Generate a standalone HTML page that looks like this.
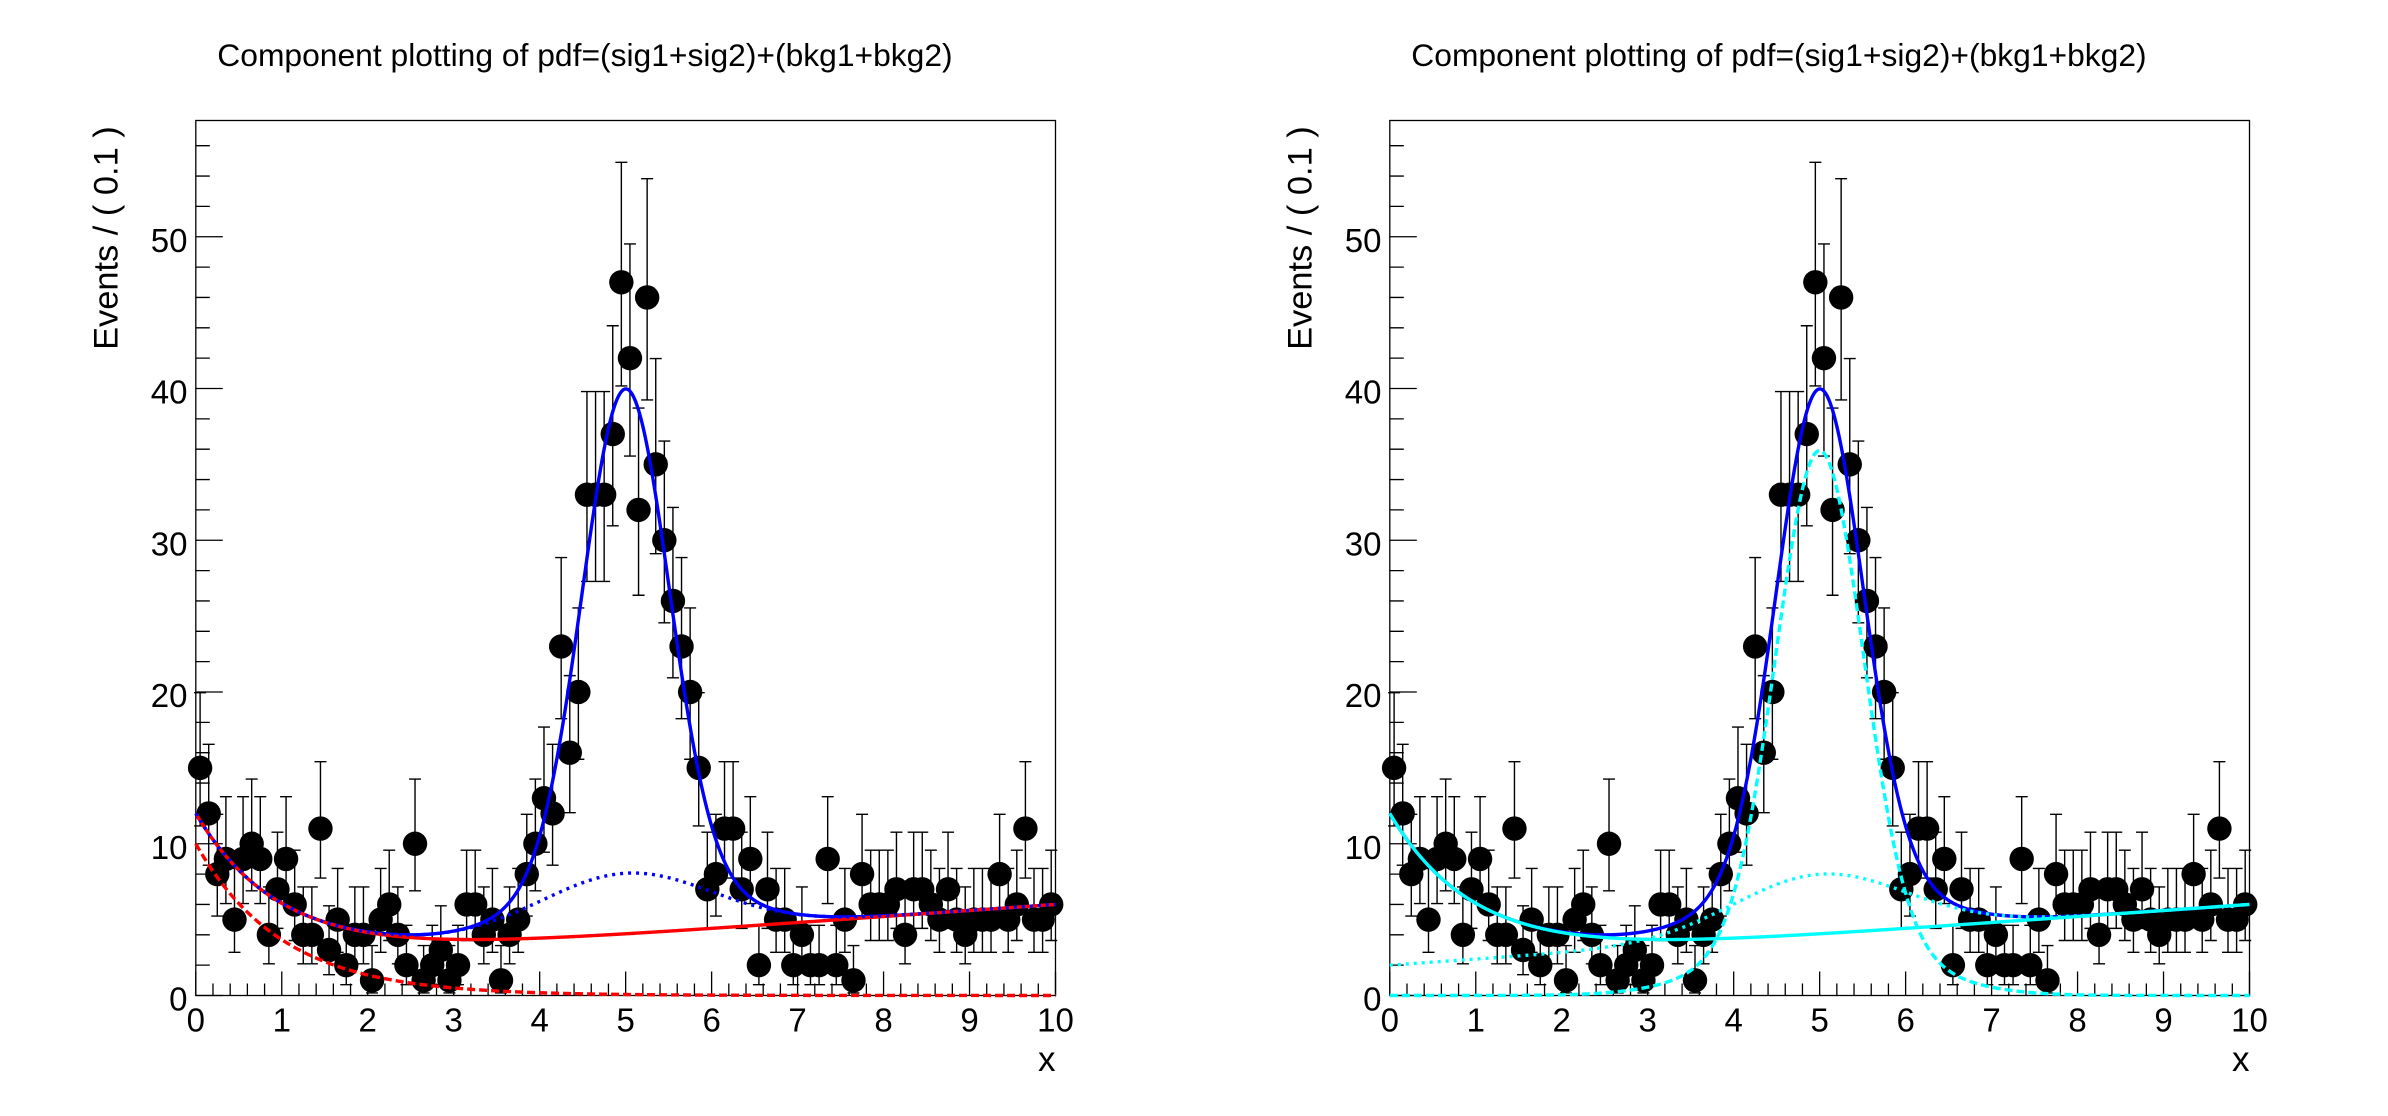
<!DOCTYPE html>
<html>
<head>
<meta charset="utf-8">
<style>
html,body{margin:0;padding:0;background:#fff;}
svg{display:block;}
text{font-family:"Liberation Sans",Arial,Helvetica,sans-serif;fill:#000;}
</style>
</head>
<body>
<svg id="c" width="2388" height="1116" viewBox="0 0 2388 1116" xmlns="http://www.w3.org/2000/svg">
<rect x="0" y="0" width="2388" height="1116" fill="#ffffff"/>
<g id="p0">
  <text x="217.3" y="66" font-size="31.8">Component plotting of pdf=(sig1+sig2)+(bkg1+bkg2)</text>
  <text transform="translate(117.3,126.3) rotate(-90)" text-anchor="end" font-size="34.4">Events / ( 0.1 )</text>
  <text x="1055.5" y="1071" text-anchor="end" font-size="35">x</text>
  <g font-size="33" text-anchor="middle">
    <text x="195.8" y="1031.5">0</text>
    <text x="281.77" y="1031.5">1</text>
    <text x="367.74" y="1031.5">2</text>
    <text x="453.71" y="1031.5">3</text>
    <text x="539.68" y="1031.5">4</text>
    <text x="625.65" y="1031.5">5</text>
    <text x="711.62" y="1031.5">6</text>
    <text x="797.59" y="1031.5">7</text>
    <text x="883.56" y="1031.5">8</text>
    <text x="969.53" y="1031.5">9</text>
    <text x="1055.5" y="1031.5">10</text>
  </g>
  <g font-size="33" text-anchor="end">
    <text x="187.5" y="1010.5">0</text>
    <text x="187.5" y="858.75">10</text>
    <text x="187.5" y="707">20</text>
    <text x="187.5" y="555.25">30</text>
    <text x="187.5" y="403.5">40</text>
    <text x="187.5" y="251.75">50</text>
  </g>
  <g id="plot0"></g>
</g>
<g id="p1" transform="translate(1194,0)">
  <text x="217.3" y="66" font-size="31.8">Component plotting of pdf=(sig1+sig2)+(bkg1+bkg2)</text>
  <text transform="translate(117.3,126.3) rotate(-90)" text-anchor="end" font-size="34.4">Events / ( 0.1 )</text>
  <text x="1055.5" y="1071" text-anchor="end" font-size="35">x</text>
  <g font-size="33" text-anchor="middle">
    <text x="195.8" y="1031.5">0</text>
    <text x="281.77" y="1031.5">1</text>
    <text x="367.74" y="1031.5">2</text>
    <text x="453.71" y="1031.5">3</text>
    <text x="539.68" y="1031.5">4</text>
    <text x="625.65" y="1031.5">5</text>
    <text x="711.62" y="1031.5">6</text>
    <text x="797.59" y="1031.5">7</text>
    <text x="883.56" y="1031.5">8</text>
    <text x="969.53" y="1031.5">9</text>
    <text x="1055.5" y="1031.5">10</text>
  </g>
  <g font-size="33" text-anchor="end">
    <text x="187.5" y="1010.5">0</text>
    <text x="187.5" y="858.75">10</text>
    <text x="187.5" y="707">20</text>
    <text x="187.5" y="555.25">30</text>
    <text x="187.5" y="403.5">40</text>
    <text x="187.5" y="251.75">50</text>
  </g>
  <g id="plot1"></g>
</g>
</svg>
<script>
(function(){
var NS="http://www.w3.org/2000/svg";
var X0=195.8,X1=1055.5,Y0=120.5,Y1=995.5,YMAX=57.66;
var sx=(X1-X0)/10, sy=(Y1-Y0)/YMAX;
function px(v){return X0+v*sx;}
function py(v){return Y1-v*sy;}
function el(g,tag,a){var e=document.createElementNS(NS,tag);for(var k in a)e.setAttribute(k,a[k]);g.appendChild(e);return e;}
var data=[15,12,8,9,5,9,10,9,4,7,
          9,6,4,4,11,3,5,2,4,4,
          1,5,6,4,2,10,1,2,3,1,
          2,6,6,4,5,1,4,5,8,10,
          13,12,23,16,20,33,33,33,37,47,
          42,32,46,35,30,26,23,20,15,7,
          8,11,11,7,9,2,7,5,5,2,
          4,2,2,9,2,5,1,8,6,6,
          6,7,4,7,7,6,5,7,5,4,
          5,5,5,8,5,6,11,5,5,6];
function lo(n){if(n<=0)return 0;var a=1-1/(9*n)-1/(3*Math.sqrt(n));return n*a*a*a;}
function hi(n){var m=n+1;var a=1-1/(9*m)+1/(3*Math.sqrt(m));return m*a*a*a;}
function G(x,m,s){var t=(x-m)/s;return Math.exp(-0.5*t*t)/(s*Math.sqrt(2*Math.PI));}
function B1(x){return 4*(0.5+0.1*x);}
function B2(x){return 10*Math.exp(-x)/(1-Math.exp(-10));}
function S1(x){return 40*G(x,5,0.5);}
function S2(x){return 10*G(x,5,1);}
function model(x){return B1(x)+B2(x)+S1(x)+S2(x);}
function path(f){var d="";for(var i=0;i<=1000;i++){var x=i/100;d+=(i?"L":"M")+px(x).toFixed(2)+" "+py(f(x)).toFixed(2);}return d;}

function drawPlot(g,comps){
  // frame
  el(g,"rect",{x:X0,y:Y0,width:X1-X0,height:Y1-Y0,fill:"none",stroke:"#000","stroke-width":1.3});
  // ticks
  var t="";
  for(var k=0;k<=50;k++){var v=k*0.2;var x=px(v);var L=(k%5==0)?24:12;t+="M"+x.toFixed(2)+" "+Y1+"V"+(Y1-L).toFixed(2);}
  for(var k=0;k<=28;k++){var v=k*2;var y=py(v);var L=(k%5==0)?27:14;t+="M"+X0+" "+y.toFixed(2)+"H"+(X0+L).toFixed(2);}
  el(g,"path",{d:t,stroke:"#000","stroke-width":1.3,fill:"none"});
  // error bars
  var e="";
  for(var i=0;i<data.length;i++){
    var n=data[i];var x=px(0.05+0.1*i);var a=py(lo(n)),b=py(hi(n));
    e+="M"+x.toFixed(2)+" "+a.toFixed(2)+"V"+b.toFixed(2);
    e+="M"+(x-6).toFixed(2)+" "+a.toFixed(2)+"H"+(x+6).toFixed(2);
    e+="M"+(x-6).toFixed(2)+" "+b.toFixed(2)+"H"+(x+6).toFixed(2);
  }
  el(g,"path",{d:e,stroke:"#000","stroke-width":1.4,fill:"none"});
  // markers
  for(var i=0;i<data.length;i++){
    el(g,"circle",{cx:px(0.05+0.1*i).toFixed(2),cy:py(data[i]).toFixed(2),r:12.2,fill:"#000"});
  }
  // curves
  for(var j=0;j<comps.length;j++){
    var c=comps[j];
    var a={d:path(c.f),fill:"none",stroke:c.col,"stroke-width":3.4,"stroke-linejoin":"round"};
    if(c.dash)a["stroke-dasharray"]=c.dash;
    el(g,"path",a);
  }
}
drawPlot(document.getElementById("plot0"),[
  {f:model,col:"#0000ff"},
  {f:function(x){return B1(x)+B2(x);},col:"#ff0000"},
  {f:B2,col:"#ff0000",dash:"8 4"},
  {f:function(x){return B1(x)+B2(x)+S2(x);},col:"#0000ff",dash:"3 5"}
]);
drawPlot(document.getElementById("plot1"),[
  {f:model,col:"#0000ff"},
  {f:function(x){return B1(x)+B2(x);},col:"#00ffff"},
  {f:function(x){return B1(x)+S2(x);},col:"#00ffff",dash:"3 5"},
  {f:function(x){return S1(x)+S2(x);},col:"#00ffff",dash:"8 4"}
]);
})();
</script>
</body>
</html>
